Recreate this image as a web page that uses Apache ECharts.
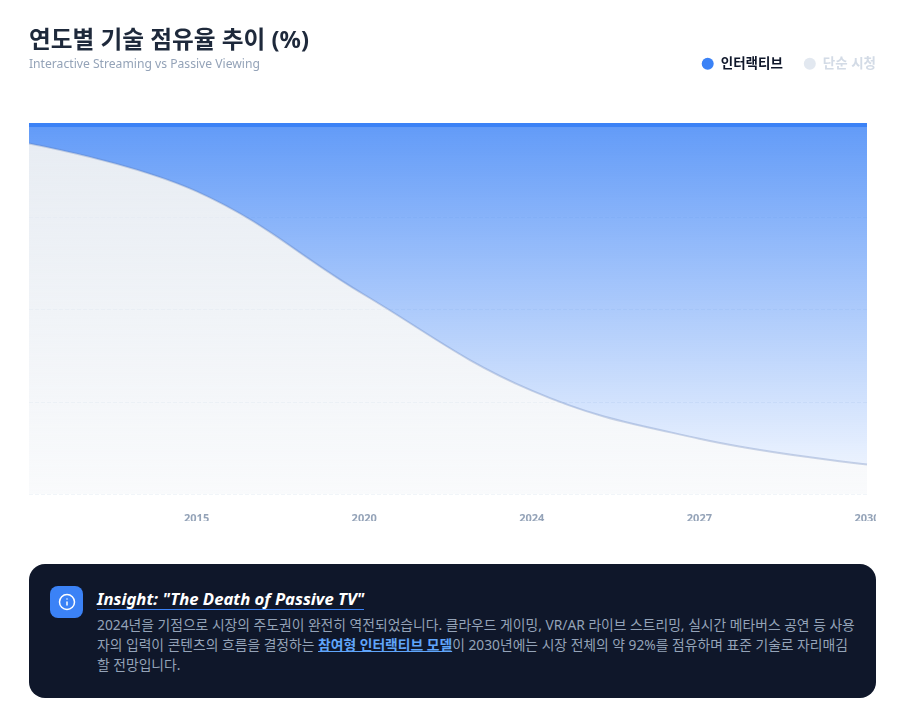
<!DOCTYPE html>
<html lang="ko">
<head>
<meta charset="utf-8">
<script src="https://cdn.jsdelivr.net/npm/echarts@6/dist/echarts.min.js"></script>
<style>
html,body{margin:0;padding:0;background:#fff;width:908px;height:717px;overflow:hidden;font-family:"Noto Sans","Noto Sans CJK KR",sans-serif}
#chart{position:absolute;left:0;top:0;width:876px;height:521px;overflow:hidden}
#card{position:absolute;left:29px;top:564px;width:847px;height:134px;background:#0f172a;border-radius:16px}
#icon{position:absolute;left:21px;top:22px;width:33px;height:32px;background:#3b82f6;border-radius:8px;display:flex;align-items:center;justify-content:center}
#head{position:absolute;left:68px;top:24px;margin:0;font-size:16.7px;line-height:21px;font-weight:700;font-style:italic;color:#fff;border-bottom:1px solid #3b82f6}
#body{position:absolute;left:68px;top:51px;width:762px;margin:0;font-size:13.8px;line-height:20px;color:#94a3b8;font-family:"Noto Sans","Noto Sans CJK KR",sans-serif}
#body b{color:#60a5fa;text-decoration:underline;font-weight:700}
</style>
</head>
<body>
<div id="chart"></div>
<div id="card">
  <div id="icon"><svg width="18" height="18" viewBox="0 0 24 24" fill="none" stroke="#fff" stroke-width="2" stroke-linecap="round" stroke-linejoin="round"><circle cx="12" cy="12" r="10"/><path d="M12 16v-4"/><path d="M12 8h.01"/></svg></div>
  <p id="head">Insight: "The Death of Passive TV"</p>
  <p id="body">2024년을 기점으로 시장의 주도권이 완전히 역전되었습니다. 클라우드 게이밍, VR/AR 라이브 스트리밍, 실시간 메타버스 공연 등 사용<br>자의 입력이 콘텐츠의 흐름을 결정하는 <b>참여형 인터랙티브 모델</b>이 2030년에는 시장 전체의 약 92%를 점유하며 표준 기술로 자리매김<br>할 전망입니다.</p>
</div>
<script>
const years = ['2010','2015','2020','2024','2027','2030'];
const passive = [95,82,54,28,15,8];
const interactive = [5,18,46,72,85,92];
const FONT = '"Noto Sans","Noto Sans CJK KR",sans-serif';
const chart = echarts.init(document.getElementById('chart'));
chart.setOption({
  animation:false,
  textStyle:{fontFamily:FONT},
  title:{left:29,top:29,padding:0,text:'연도별 기술 점유율 추이 (%)',subtext:'Interactive Streaming vs Passive Viewing',itemGap:6,
    textStyle:{fontFamily:FONT,fontSize:23.7,fontWeight:700,color:'#1e293b'},
    subtextStyle:{fontFamily:FONT,fontSize:12.15,color:'#94a3b8'}},
  legend:{right:0,top:57,padding:0,icon:'circle',itemWidth:12,itemHeight:12,itemGap:21,selectedMode:false,
    data:[
      {name:'인터랙티브',itemStyle:{color:'#3b82f6'},textStyle:{color:'#0f172a',fontWeight:700,fontSize:13.5,fontFamily:FONT,padding:[0,0,0,2]}},
      {name:'단순 시청',itemStyle:{color:'#e2e8f0'},textStyle:{color:'#d3dbe6',fontWeight:700,fontSize:13.5,fontFamily:FONT,padding:[0,0,0,2]}}
    ]},
  grid:{left:29,right:9,top:125,bottom:27,outerBoundsMode:'none'},
  xAxis:{type:'category',boundaryGap:false,data:years,
    axisLine:{show:false},axisTick:{show:false},
    axisLabel:{color:'#94a3b8',fontSize:11,fontWeight:700,margin:19,fontFamily:FONT,
      showMinLabel:false,showMaxLabel:true,interval:0,
      formatter:(v,i)=>i===0?'':v}},
  yAxis:{type:'value',min:0,max:100,interval:25,axisLabel:{show:false},axisLine:{show:false},axisTick:{show:false},
    splitLine:{lineStyle:{color:'#f1f5f9',type:'dashed'}}},
  series:[
    {name:'단순 시청',type:'line',stack:'t',smooth:0.4,symbol:'none',data:passive,
     itemStyle:{color:'#e2e8f0'},
     lineStyle:{color:'rgba(90,120,180,.3)',width:2},
     areaStyle:{opacity:1,color:new echarts.graphic.LinearGradient(0,0,0,1,[{offset:0,color:'rgba(226,232,240,.8)'},{offset:1,color:'rgba(226,232,240,.2)'}])}},
    {name:'인터랙티브',type:'line',stack:'t',smooth:0.4,symbol:'none',data:interactive,
     itemStyle:{color:'#3b82f6'},
     lineStyle:{color:'#3b82f6',width:4},
     areaStyle:{opacity:1,color:new echarts.graphic.LinearGradient(0,0,0,1,[{offset:0,color:'rgba(59,130,246,.8)'},{offset:1,color:'rgba(59,130,246,.1)'}])}}
  ]
});
</script>
</body>
</html>
